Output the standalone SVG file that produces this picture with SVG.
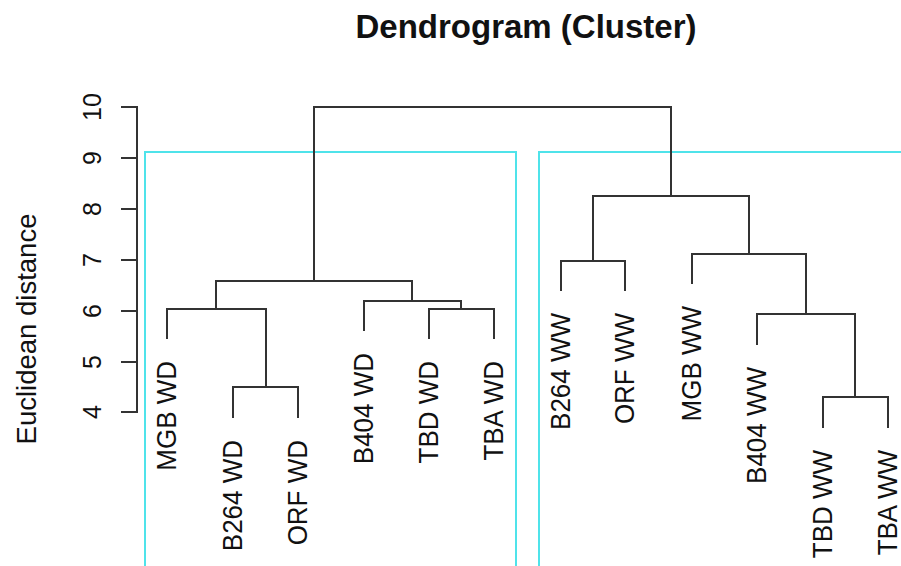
<svg xmlns="http://www.w3.org/2000/svg" width="901" height="566" viewBox="0 0 901 566">
<style>
.ln{fill:none;stroke:#333;stroke-width:2;stroke-linecap:square}
.cy{fill:none;stroke:#4fe3ea;stroke-width:2}
.lbl{font-family:"Liberation Sans",Arial,sans-serif;font-size:26px;fill:#111;text-anchor:end}
.tk{font-family:"Liberation Sans",Arial,sans-serif;font-size:25px;fill:#111;text-anchor:middle}
</style>
<rect width="901" height="566" fill="#fff"/>
<text x="526" y="38" font-family="'Liberation Sans',Arial,sans-serif" font-size="33" font-weight="bold" text-anchor="middle" fill="#111">Dendrogram (Cluster)</text>
<g id="axis">
<path class="ln" d="M137 107V412M122 107H137M122 158H137M122 209H137M122 260H137M122 311H137M122 362H137M122 412H137"/>
<text class="tk" transform="translate(101,107) rotate(-90) scale(1,1.05)">10</text>
<text class="tk" transform="translate(101,158) rotate(-90) scale(1,1.05)">9</text>
<text class="tk" transform="translate(101,209) rotate(-90) scale(1,1.05)">8</text>
<text class="tk" transform="translate(101,260) rotate(-90) scale(1,1.05)">7</text>
<text class="tk" transform="translate(101,311) rotate(-90) scale(1,1.05)">6</text>
<text class="tk" transform="translate(101,362) rotate(-90) scale(1,1.05)">5</text>
<text class="tk" transform="translate(101,412) rotate(-90) scale(1,1.05)">4</text>
<text transform="translate(36,329) rotate(-90)" font-family="'Liberation Sans',Arial,sans-serif" font-size="27.5" text-anchor="middle" fill="#111">Euclidean distance</text>
</g>
<g id="clusters">
<path class="cy" d="M145 570V152H516V570"/>
<path class="cy" d="M539 570V152H905"/>
</g>
<g id="connectors">
<path class="ln" d="M314 281V107H671V196"/>
<path class="ln" d="M216 309V281H412V301"/>
<path class="ln" d="M167 338V309H266V387"/>
<path class="ln" d="M233 417V387H298V417"/>
<path class="ln" d="M364 330V301H461V309"/>
<path class="ln" d="M429 338V309H494V338"/>
<path class="ln" d="M593 261V196H749V254"/>
<path class="ln" d="M561 290V261H625V290"/>
<path class="ln" d="M692 283V254H806V314"/>
<path class="ln" d="M757 344V314H855V397"/>
<path class="ln" d="M823 427V397H888V427"/>
</g>
<g id="leaf-MGB-WD"><text class="lbl" transform="translate(176,361) rotate(-90) scale(1,1.07)">MGB WD</text></g>
<g id="leaf-B264-WD"><text class="lbl" transform="translate(242,440) rotate(-90) scale(1,1.07)">B264 WD</text></g>
<g id="leaf-ORF-WD"><text class="lbl" transform="translate(307,440) rotate(-90) scale(1,1.07)">ORF WD</text></g>
<g id="leaf-B404-WD"><text class="lbl" transform="translate(373,353) rotate(-90) scale(1,1.07)">B404 WD</text></g>
<g id="leaf-TBD-WD"><text class="lbl" transform="translate(438,361) rotate(-90) scale(1,1.07)">TBD WD</text></g>
<g id="leaf-TBA-WD"><text class="lbl" transform="translate(503,361) rotate(-90) scale(1,1.07)">TBA WD</text></g>
<g id="leaf-B264-WW"><text class="lbl" transform="translate(570,313) rotate(-90) scale(1,1.07)">B264 WW</text></g>
<g id="leaf-ORF-WW"><text class="lbl" transform="translate(634,313) rotate(-90) scale(1,1.07)">ORF WW</text></g>
<g id="leaf-MGB-WW"><text class="lbl" transform="translate(701,306) rotate(-90) scale(1,1.07)">MGB WW</text></g>
<g id="leaf-B404-WW"><text class="lbl" transform="translate(766,367) rotate(-90) scale(1,1.07)">B404 WW</text></g>
<g id="leaf-TBD-WW"><text class="lbl" transform="translate(832,450) rotate(-90) scale(1,1.07)">TBD WW</text></g>
<g id="leaf-TBA-WW"><text class="lbl" transform="translate(897,450) rotate(-90) scale(1,1.07)">TBA WW</text></g>
</svg>
